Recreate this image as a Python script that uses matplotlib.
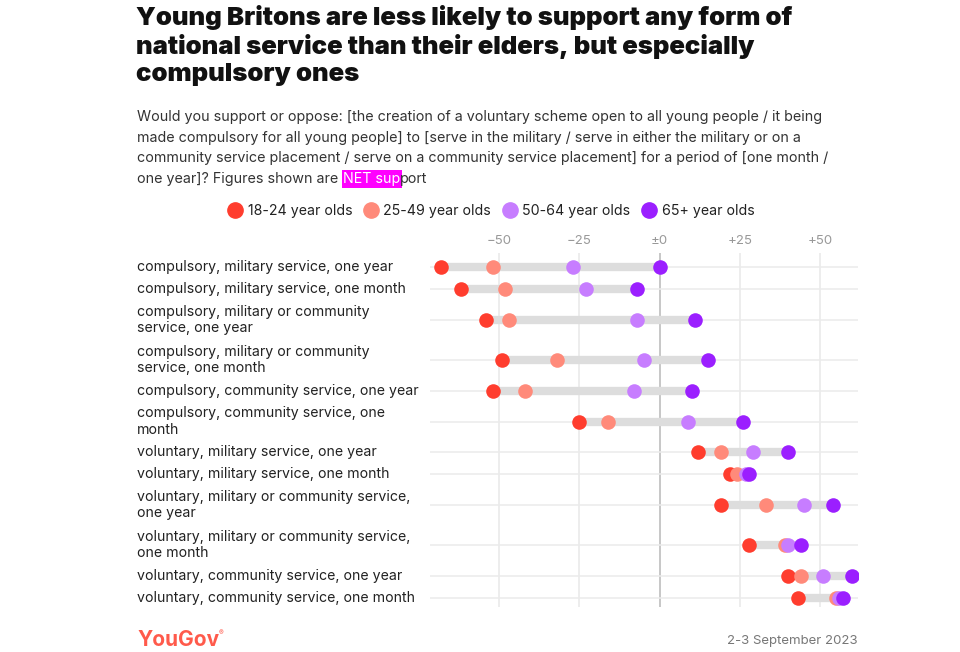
import matplotlib
matplotlib.use("Agg")
import matplotlib.pyplot as plt
import matplotlib.transforms as mtransforms
from matplotlib.lines import Line2D
import numpy as np

plt.rcParams['font.family'] = ['Inter', 'DejaVu Sans']

# --- data ---
labels = [
    "compulsory, military service, one year",
    "compulsory, military service, one month",
    "compulsory, military or community\nservice, one year",
    "compulsory, military or community\nservice, one month",
    "compulsory, community service, one year",
    "compulsory, community service, one\nmonth",
    "voluntary, military service, one year",
    "voluntary, military service, one month",
    "voluntary, military or community service,\none year",
    "voluntary, military or community service,\none month",
    "voluntary, community service, one year",
    "voluntary, community service, one month",
]
age_groups = ["18-24 year olds", "25-49 year olds", "50-64 year olds", "65+ year olds"]
age_18_24 = [-68, -62, -54, -49, -52, -25, 12, 22, 19, 28, 40, 43]
age_25_49 = [-52, -48, -47, -32, -42, -16, 19, 24, 33, 39, 44, 55]
age_50_64 = [-27, -23, -7, -5, -8, 9, 29, 27, 45, 40, 51, 56]
age_65_plus = [0, -7, 11, 15, 10, 26, 40, 28, 54, 44, 60, 57]
colors = ["#FF3D2E", "#FF8A7A", "#C77DFF", "#9B1FFF"]
ticks = [-50, -25, 0, 25, 50]
tick_labels = ["\u221250", "\u221225", "\u00b10", "+25", "+50"]

title = ("Young Britons are less likely to support any form of\n"
         "national service than their elders, but especially\n"
         "compulsory ones")
subtitle_lines = [
    "Would you support or oppose: [the creation of a voluntary scheme open to all young people / it being",
    "made compulsory for all young people] to [serve in the military / serve in either the military or on a",
    "community service placement / serve on a community service placement] for a period of [one month /",
]
subtitle_last = ["one year]? Figures shown are", "NET sup", "port"]

W, H = 960, 652
fig = plt.figure(figsize=(W / 100, H / 100), dpi=100)

# row heights depend on how many lines the label has
heights = np.array([22 if "\n" not in l else 40 for l in labels], dtype=float)
centers = np.cumsum(heights) - heights / 2

ax = fig.add_axes([430 / W, (H - 607) / H, 428 / W, 354 / H])
ax.set_xlim(-71.5, 61.8)
ax.set_ylim(centers[-1] + 9, centers[0] - 14)

for spine in ax.spines.values():
    spine.set_visible(False)
ax.set_yticks([])
ax.xaxis.tick_top()
ax.set_xticks(ticks)
ax.set_xticklabels(tick_labels, color="#999999", fontsize=9.5)
ax.tick_params(axis="x", length=0, pad=4)

for t in ticks:
    ax.axvline(t, color="#b8b8b8" if t == 0 else "#e8e8e8", lw=1.1, zorder=0)
for c in centers:
    ax.axhline(c, color="#ebebeb", lw=1.1, zorder=0)

series = np.array([age_18_24, age_25_49, age_50_64, age_65_plus])
for i, c in enumerate(centers):
    lo, hi = series[:, i].min(), series[:, i].max()
    ax.plot([lo, hi], [c, c], color="#dddddd", lw=6, solid_capstyle="butt", zorder=1)
for vals, col in zip(series, colors):
    ax.scatter(vals, centers, s=110, color=col, zorder=3, linewidths=0)

label_tf = mtransforms.blended_transform_factory(fig.transFigure, ax.transData)
for lab, c in zip(labels, centers):
    ax.text(137 / W, c, lab, transform=label_tf, ha="left", va="center",
            fontsize=10.2, color="#222222", linespacing=1.2)

# title and subtitle
fig.text(136 / W, 1 - 5 / H, title, ha="left", va="top", fontsize=18.5,
         fontweight="black", color="#111111", linespacing=1.22)
for i, line in enumerate(subtitle_lines):
    fig.text(137 / W, 1 - (117 + i * 20.7) / H, line, ha="left", va="center",
             fontsize=10.3, color="#333333")

# last subtitle line with the highlighted "NET sup"
renderer = fig.canvas.get_renderer()
x = 137 / W
y = 1 - 179 / H
for k, piece in enumerate(subtitle_last):
    kw = dict(ha="left", va="center", fontsize=10.3, color="#333333")
    if k == 1:
        kw.update(color="white", bbox=dict(boxstyle="square,pad=0.12", fc="#FF00FF", ec="none"))
    t = fig.text(x, y, piece, **kw)
    bb = t.get_window_extent(renderer)
    x = (bb.x1 + 5) / W if k == 0 else (bb.x1 - 1) / W

# legend
handles = [Line2D([], [], marker="o", ls="none", color=c, markersize=11) for c in colors]
fig.legend(handles, age_groups, loc="center", bbox_to_anchor=(491 / W, 1 - 211 / H),
           ncol=4, frameon=False, fontsize=10.2, handletextpad=0.4, columnspacing=0.8,
           handlelength=1.0, labelcolor="#222222")

# footer
fig.text(137 / W, 1 - 640 / H, "YouGov", ha="left", va="center", fontsize=15,
         fontweight="bold", color="#FF5A4B")
fig.text(219 / W, 1 - 633 / H, "\u00ae", ha="left", va="center", fontsize=5,
         color="#FF5A4B")
fig.text(858 / W, 1 - 641 / H, "2-3 September 2023", ha="right", va="center",
         fontsize=9.5, color="#777777")

fig.savefig("out.png", dpi=100)
